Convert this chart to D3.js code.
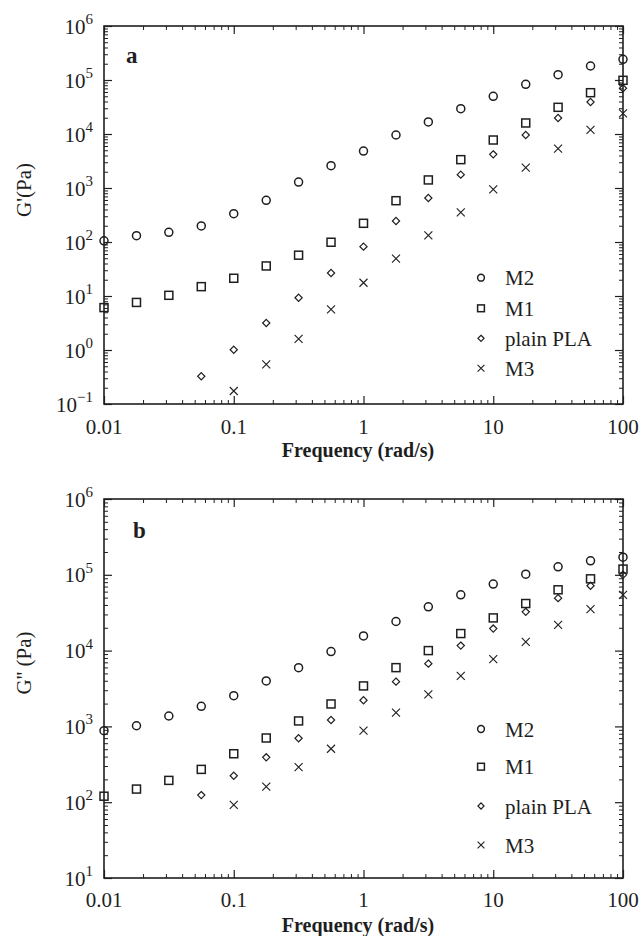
<!DOCTYPE html>
<html>
<head>
<meta charset="utf-8">
<script src="https://cdn.jsdelivr.net/npm/d3@7"></script>
<style>
  body { margin: 0; background: #fff; }
  svg { display: block; }
</style>
</head>
<body>
<div id="chart"></div>
<script>
// DATA (log-log, frequency in rad/s, modulus in Pa)
const freq = [0.01, 0.0178, 0.0316, 0.0562, 0.1, 0.178, 0.316, 0.562, 1,
  1.78, 3.16, 5.62, 10, 17.8, 31.6, 56.2, 100];

const seriesNames = ["M2", "M1", "plain PLA", "M3"];
const xTickLabels = ["0.01", "0.1", "1", "10", "100"];

// panel a : G'
const gStorage_M2 = [105, 131, 151, 198, 335, 592, 1290, 2590, 4840, 9580, 16700, 29400, 49900, 83200, 125500, 181600, 241700];
const gStorage_M1 = [6.1, 7.6, 10.3, 14.9, 21.3, 36, 57, 99, 222, 582, 1410, 3350, 7740, 16000, 31200, 58200, 98700];
const gStorage_PLA = [null, null, null, 0.326, 1.01, 3.16, 9.3, 26.7, 82, 245, 653, 1765, 4200, 9580, 19800, 39100, 70200];
const gStorage_M3 = [null, null, null, null, 0.174, 0.543, 1.6, 5.67, 17.6, 49, 133, 354, 945, 2380, 5350, 11900, 24200];

// panel b : G''
const gLoss_M2 = [877, 1020, 1372, 1842, 2545, 3980, 5960, 9700, 15600, 24200, 37800, 54400, 75400, 102000, 127500, 153000, 171000];
const gLoss_M1 = [120, 149, 194, 271, 436, 703, 1180, 1977, 3420, 5960, 10000, 16780, 27000, 41800, 63400, 88500, 119000];
const gLoss_PLA = [null, null, null, 124, 223, 391, 697, 1215, 2213, 3896, 6730, 11640, 19530, 32460, 49200, 71600, 100000];
const gLoss_M3 = [null, null, null, null, 92.5, 160, 291, 507, 877, 1517, 2654, 4630, 7700, 13000, 21850, 35200, 54400];

// LAYOUT
const W = 642, H = 936;
const plotLeft = 104, plotRight = 623;
const FONT = "'Liberation Serif', 'Times New Roman', serif";
const INK = "#1e1e1e";

const panels = [
  { tag: "a", top: 26, bottom: 404, yExp: [-1, 6], ylabel: "G'(Pa)", ylabelY: 190,
    series: [gStorage_M2, gStorage_M1, gStorage_PLA, gStorage_M3],
    legendRows: [277.7, 308.3, 338.3, 368.3], tickBase: 30, titleBase: 53, tagY: 63, tagX: 126 },
  { tag: "b", top: 499, bottom: 878, yExp: [1, 6], ylabel: "G'' (Pa)", ylabelY: 663,
    series: [gLoss_M2, gLoss_M1, gLoss_PLA, gLoss_M3],
    legendRows: [729, 766.7, 806, 845], tickBase: 29, titleBase: 54, tagY: 538, tagX: 133 }
];

const svg = d3.select("#chart").append("svg")
  .attr("width", W).attr("height", H)
  .style("background", "#fff");

// marker shapes, drawn around (0,0)
function marker(sel, i, s) {
  sel.attr("fill", "none").attr("stroke", INK);
  if (i === 0) {
    sel.append("circle").attr("r", 4 * s).attr("stroke-width", 1.5);
  } else if (i === 1) {
    sel.append("rect").attr("x", -4 * s).attr("y", -4 * s)
      .attr("width", 8 * s).attr("height", 8 * s).attr("stroke-width", 1.5);
  } else if (i === 2) {
    const r = 3.6 * s;
    sel.append("path").attr("d", `M0,${-r}L${r},0L0,${r}L${-r},0Z`).attr("stroke-width", 1.2);
  } else {
    const r = 4 * s;
    sel.append("path").attr("d", `M${-r},${-r}L${r},${r}M${-r},${r}L${r},${-r}`).attr("stroke-width", 1.1);
  }
}

// log minor tick positions between decades
function minorTicks(lo, hi) {
  const out = [];
  for (let e = lo; e < hi; e++) for (let k = 2; k <= 9; k++) out.push(k * Math.pow(10, e));
  return out;
}

panels.forEach((p) => {
  const x = d3.scaleLog().domain([0.01, 100]).range([plotLeft, plotRight]);
  const y = d3.scaleLog().domain([Math.pow(10, p.yExp[0]), Math.pow(10, p.yExp[1])]).range([p.bottom, p.top]);
  const yMajor = d3.range(p.yExp[0], p.yExp[1] + 1).map((e) => Math.pow(10, e));
  const xMajor = [0.01, 0.1, 1, 10, 100];

  const g = svg.append("g");

  // AXES: ticks inward on all four sides
  const axes = [
    [d3.axisBottom(x), `translate(0,${p.bottom})`, xMajor, minorTicks(-2, 2)],
    [d3.axisTop(x), `translate(0,${p.top})`, xMajor, minorTicks(-2, 2)],
    [d3.axisLeft(y), `translate(${plotLeft},0)`, yMajor, minorTicks(p.yExp[0], p.yExp[1])],
    [d3.axisRight(y), `translate(${plotRight},0)`, yMajor, minorTicks(p.yExp[0], p.yExp[1])]
  ];
  axes.forEach(([ax, tr, major, minor]) => {
    g.append("g").attr("transform", tr)
      .call(ax.tickValues(major).tickSize(-8).tickFormat(""))
      .call((s) => s.select(".domain").remove())
      .call((s) => s.selectAll("line").attr("stroke", INK).attr("stroke-width", 1.2));
    g.append("g").attr("transform", tr)
      .call(ax.tickValues(minor).tickSize(-4).tickFormat(""))
      .call((s) => s.select(".domain").remove())
      .call((s) => s.selectAll("line").attr("stroke", INK).attr("stroke-width", 1));
  });

  // frame
  g.append("rect")
    .attr("x", plotLeft).attr("y", p.top)
    .attr("width", plotRight - plotLeft).attr("height", p.bottom - p.top)
    .attr("fill", "none").attr("stroke", INK).attr("stroke-width", 1.6);

  // x tick labels
  g.selectAll(".xlab").data(xMajor).join("text")
    .attr("class", "xlab")
    .attr("x", (d) => x(d)).attr("y", p.bottom + p.tickBase)
    .attr("text-anchor", "middle")
    .attr("font-family", FONT).attr("font-size", 21).attr("fill", INK)
    .text((d, i) => xTickLabels[i]);

  // y tick labels 10^n
  const yl = g.selectAll(".ylab").data(yMajor).join("text")
    .attr("class", "ylab")
    .attr("x", plotLeft - 11).attr("y", (d) => y(d) + 7.5)
    .attr("text-anchor", "end")
    .attr("font-family", FONT).attr("font-size", 21).attr("fill", INK);
  yl.append("tspan").text("10");
  yl.append("tspan").attr("font-size", 15).attr("dy", -9.5)
    .text((d) => String(Math.round(Math.log10(d))).replace("-", "\u2212"));

  // axis titles
  g.append("text")
    .attr("x", 358).attr("y", p.bottom + p.titleBase)
    .attr("text-anchor", "middle")
    .attr("font-family", FONT).attr("font-size", 20).attr("font-weight", "bold").attr("fill", INK)
    .text("Frequency (rad/s)");

  g.append("text")
    .attr("transform", `translate(31,${p.ylabelY}) rotate(-90)`)
    .attr("text-anchor", "middle")
    .attr("font-family", FONT).attr("font-size", 21).attr("fill", INK)
    .text(p.ylabel);

  // panel tag
  g.append("text")
    .attr("x", p.tagX).attr("y", p.tagY)
    .attr("font-family", FONT).attr("font-size", 23).attr("font-weight", "bold").attr("fill", INK)
    .text(p.tag);

  // POINTS
  p.series.forEach((vals, i) => {
    const pts = freq.map((f, j) => ({ f, v: vals[j] })).filter((d) => d.v != null);
    g.selectAll(`.pt${i}`).data(pts).join("g")
      .attr("class", `pt${i}`)
      .attr("transform", (d) => `translate(${x(d.f)},${y(d.v)})`)
      .each(function () { marker(d3.select(this), i, 1); });
  });

  // LEGEND
  const leg = g.selectAll(".leg").data(seriesNames).join("g")
    .attr("class", "leg")
    .attr("transform", (d, i) => `translate(481,${p.legendRows[i]})`);
  leg.each(function (d, i) { marker(d3.select(this).append("g"), i, 0.85); });
  leg.append("text")
    .attr("x", 24).attr("y", 7.5)
    .attr("font-family", FONT).attr("font-size", 21).attr("fill", INK)
    .text((d) => d);
});
</script>
</body>
</html>
